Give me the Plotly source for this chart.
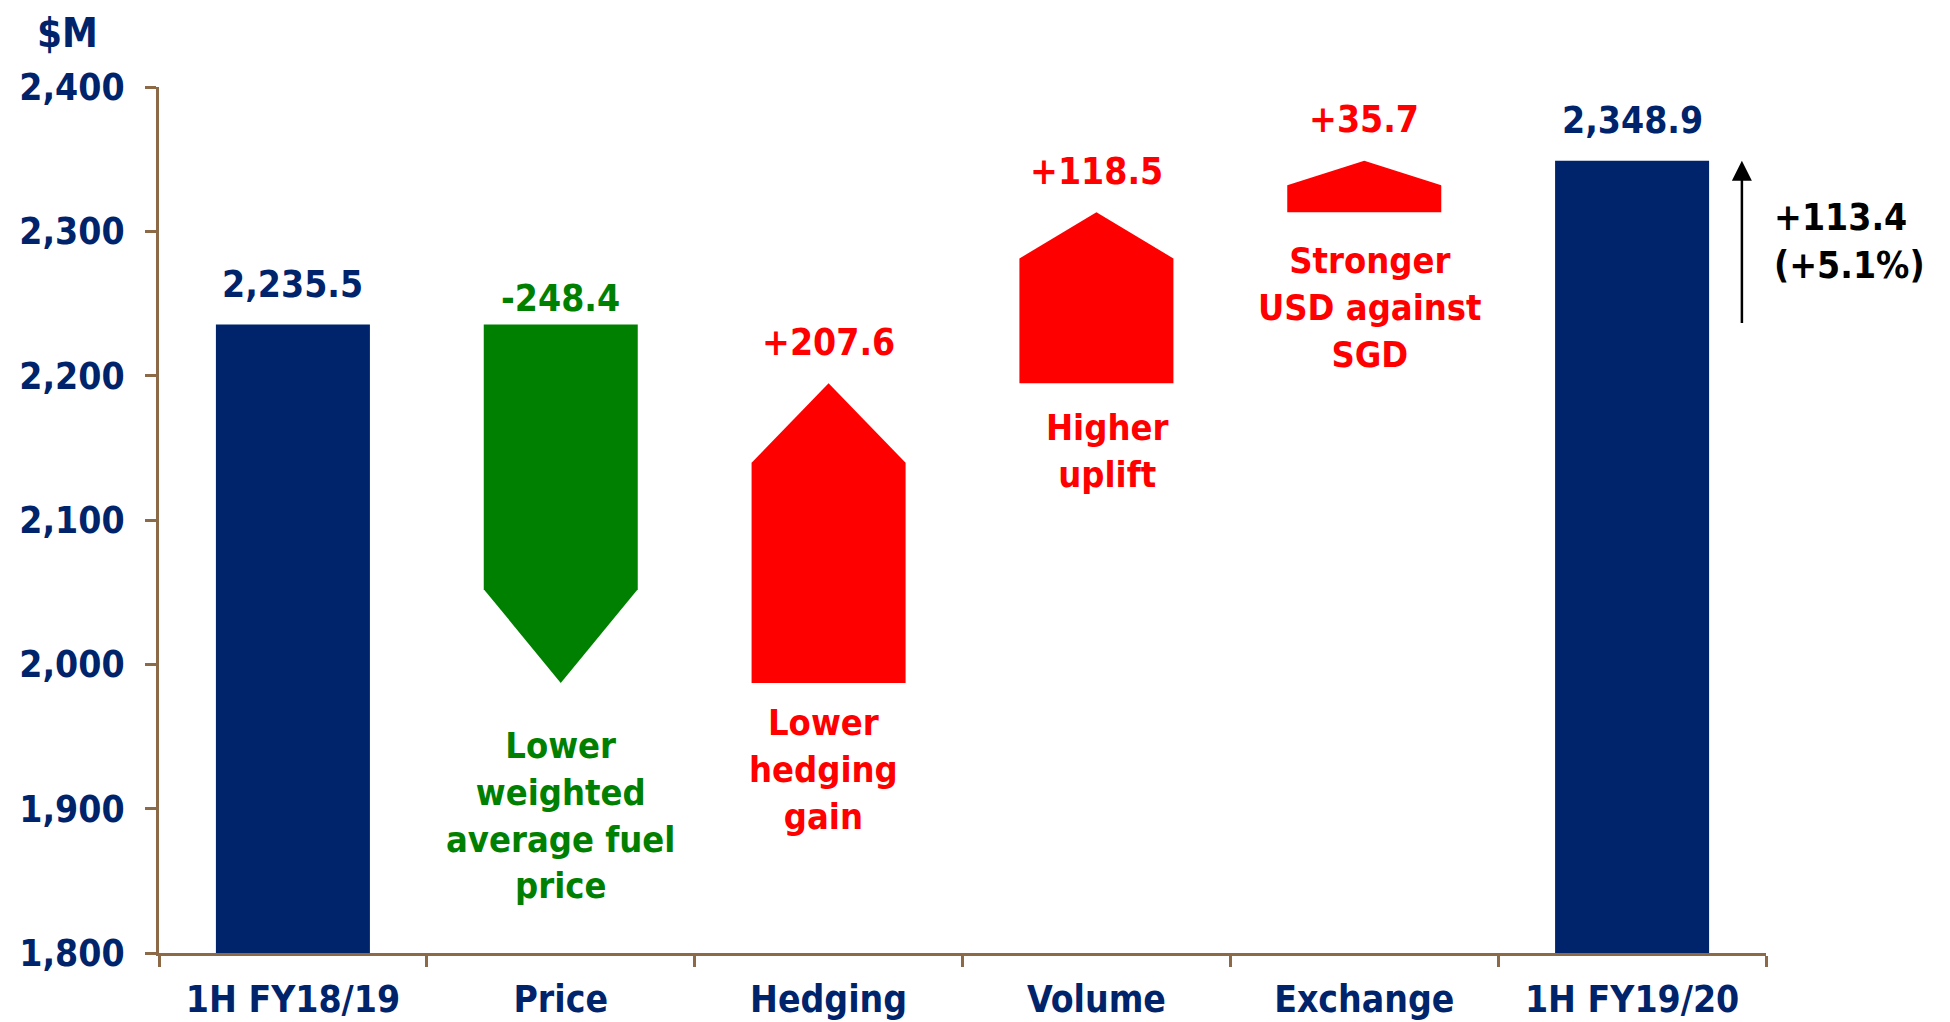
import plotly.graph_objects as go

# ---- data ----
categories = ["1H FY18/19", "Price", "Hedging", "Volume", "Exchange", "1H FY19/20"]
start_value = 2235.5
end_value = 2348.9
deltas = [-248.4, 207.6, 118.5, 35.7]          # Price, Hedging, Volume, Exchange
arrow_head = [65, 55, 32, 17]                   # arrow-head length (in $M)
delta_labels = ["-248.4", "+207.6", "+118.5", "+35.7"]
descriptions = ["Lower<br>weighted<br>average fuel<br>price",
                "Lower<br>hedging<br>gain",
                "Higher<br>uplift",
                "Stronger<br>USD against<br>SGD"]
total_change = "+113.4<br>(+5.1%)"
y_ticks = [1800, 1900, 2000, 2100, 2200, 2300, 2400]

NAVY = "#00246B"
GREEN = "#008000"
RED = "#FF0000"
BROWN = "#8C6A48"
FONT = "DejaVu Sans Condensed"
FS = 37
BW = 0.575

fig = go.Figure()

# total bars
fig.add_trace(go.Bar(x=[0, 5], y=[start_value - 1800, end_value - 1800], base=1800,
                     width=BW, marker=dict(color=NAVY, line=dict(width=0)),
                     hoverinfo="skip", showlegend=False))

# arrow-shaped delta bars
level = start_value
annots = []
for i, (d, h) in enumerate(zip(deltas, arrow_head)):
    xc = i + 1
    lo, hi = xc - BW / 2, xc + BW / 2
    new = level + d
    color = GREEN if d < 0 else RED
    shoulder = new + h if d < 0 else new - h
    xs = [lo, hi, hi, xc, lo, lo]
    ys = [level, level, shoulder, new, shoulder, level]
    top = level if d < 0 else new
    fig.add_trace(go.Scatter(x=xs, y=ys, fill="toself", fillcolor=color, mode="lines",
                             line=dict(width=0, color=color), hoverinfo="skip",
                             showlegend=False))
    annots.append(dict(x=xc, y=top, text=delta_labels[i], showarrow=False,
                       xanchor="center", yanchor="middle", yshift=26 if d < 0 else 41,
                       font=dict(family=FONT, size=FS, color=color, weight="bold")))
    level = new

# total labels
for xc, v in [(0, start_value), (5, end_value)]:
    annots.append(dict(x=xc, y=v, text=f"{v:,.1f}", showarrow=False, xanchor="center",
                       yanchor="middle", yshift=40,
                       font=dict(family=FONT, size=FS, color=NAVY, weight="bold")))

# descriptions
desc_pos = [(1.0, 1895), (1.98, 1927), (3.04, 2148), (4.02, 2247)]
for i, (txt, (dx, dy)) in enumerate(zip(descriptions, desc_pos)):
    color = GREEN if deltas[i] < 0 else RED
    annots.append(dict(x=dx, y=dy, text=txt, showarrow=False, align="center",
                       xanchor="center", yanchor="middle",
                       font=dict(family=FONT, size=36, color=color, weight="bold")))

# total change arrow
annots.append(dict(x=5.41, y=end_value, ax=5.41, ay=start_value, xref="x", yref="y",
                   axref="x", ayref="y", text="", showarrow=True, arrowhead=2,
                   arrowsize=1.6, arrowwidth=2.5, arrowcolor="black"))
annots.append(dict(x=1.004, xref="paper", y=2293, yref="y", text=total_change,
                   showarrow=False, xanchor="left", yanchor="middle", align="left",
                   font=dict(family=FONT, size=FS, color="black", weight="bold")))
# unit label
annots.append(dict(x=-0.057, xref="paper", y=1 + 79 / 866, yref="paper", text="$M",
                   showarrow=False, xanchor="center", yanchor="top",
                   font=dict(family=FONT, size=40, color=NAVY, weight="bold")))

fig.update_layout(
    width=1942, height=1014,
    margin=dict(l=151, r=184, t=79, b=69),
    paper_bgcolor="white", plot_bgcolor="white",
    showlegend=False,
    annotations=annots,
    xaxis=dict(range=[-0.5, 5.5], tickmode="array", tickvals=list(range(6)),
               ticktext=categories, ticks="", showgrid=False, zeroline=False,
               automargin=False,
               showline=True, linecolor=BROWN, linewidth=3, ticklabelstandoff=12,
               tickfont=dict(family=FONT, size=37, color=NAVY, weight="bold"),
               minor=dict(tickmode="array", tickvals=[i - 0.5 for i in range(7)],
                          ticks="outside", ticklen=11, tickwidth=3, tickcolor=BROWN,
                          showgrid=False)),
    yaxis=dict(range=[1800, 2400], tickmode="array", tickvals=y_ticks,
               tickformat=",", ticks="outside", ticklen=11, tickwidth=3,
               automargin=False,
               tickcolor=BROWN, showgrid=False, zeroline=False, showline=True,
               linecolor=BROWN, linewidth=3, ticklabelstandoff=13,
               tickfont=dict(family=FONT, size=37, color=NAVY, weight="bold")),
)

fig.write_html("out.html")
